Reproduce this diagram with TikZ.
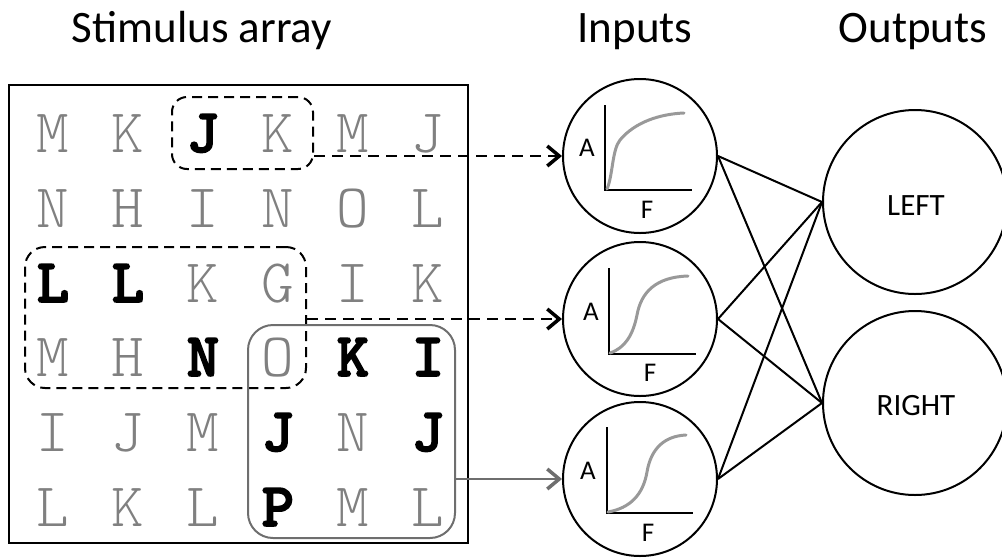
\documentclass[tikz,border=0pt]{standalone}
\usepackage{fontspec}
\setmainfont{Carlito}
\newfontfamily\gridfont{Latin Modern Mono Light}
\newfontfamily\heavygrid{Latin Modern Mono Light}[FakeBold=2.5]
\usetikzlibrary{arrows.meta}
\definecolor{lettergray}{gray}{0.5}
\definecolor{boxgray}{gray}{0.43}
\definecolor{curvegray}{gray}{0.6}

\begin{document}
\begin{tikzpicture}[x=1pt,y=-1pt,
  title/.style={anchor=base, inner sep=0pt, font=\fontsize{45}{50}\selectfont},
  glyph/.style={anchor=base, inner sep=0pt, text=lettergray, font=\gridfont\fontsize{62}{62}\selectfont},
  target/.style={anchor=base, inner sep=0pt, text=black, font=\heavygrid\bfseries\fontsize{62}{62}\selectfont},
  frame/.style={draw=black, line width=2pt, inner sep=0pt},
  dashbox/.style={draw=black, line width=2pt, dash pattern=on 10pt off 6pt, inner sep=0pt},
  graybox/.style={draw=boxgray, line width=2pt, inner sep=0pt, rounded corners=25pt},
  unit/.style={circle, draw=black, line width=2pt, inner sep=0pt},
  axislabel/.style={inner sep=0pt, font=\fontsize{27}{30}\selectfont},
  outlabel/.style={inner sep=0pt, font=\fontsize{31}{34}\selectfont},
  axis/.style={line width=2pt, black},
  response/.style={line width=3pt, curvegray, line cap=round},
  feed/.style={line width=2.5pt, -{Straight Barb[length=12pt,width=20pt,line width=3.5pt]}},
  link/.style={line width=2pt, black},
]
\clip (0,0) rectangle (1002,558);

% column titles
\node[title] (tstim) at (202,42) {Stimulus array};
\node[title] (tin)   at (635,42) {Inputs};
\node[title] (tout)  at (913,42) {Outputs};

% stimulus frame
\node[frame, minimum width=459pt, minimum height=458pt] (frm) at (238.5,314) {};

% letter grid
\foreach \l/\s [count=\c] in {M/glyph,K/glyph,J/target,K/glyph,M/glyph,J/glyph}
  \node[\s] (g1-\c) at ({53+75*(\c-1)},152) {\l};
\foreach \l/\s [count=\c] in {N/glyph,H/glyph,I/glyph,N/glyph,O/glyph,L/glyph}
  \node[\s] (g2-\c) at ({53+75*(\c-1)},227) {\l};
\foreach \l/\s [count=\c] in {L/target,L/target,K/glyph,G/glyph,I/glyph,K/glyph}
  \node[\s] (g3-\c) at ({53+75*(\c-1)},302) {\l};
\foreach \l/\s [count=\c] in {M/glyph,H/glyph,N/target,O/glyph,K/target,I/target}
  \node[\s] (g4-\c) at ({53+75*(\c-1)},376) {\l};
\foreach \l/\s [count=\c] in {I/glyph,J/glyph,M/glyph,J/target,N/glyph,J/target}
  \node[\s] (g5-\c) at ({53+75*(\c-1)},451) {\l};
\foreach \l/\s [count=\c] in {L/glyph,K/glyph,L/glyph,P/target,M/glyph,L/glyph}
  \node[\s] (g6-\c) at ({53+75*(\c-1)},526) {\l};

% receptive-field windows
\node[dashbox, rounded corners=15pt, minimum width=141pt, minimum height=72pt] (win1) at (242.5,133) {};
\node[dashbox, rounded corners=20pt, minimum width=281pt, minimum height=141pt] (win2) at (165.5,317.5) {};
\node[graybox, minimum width=207pt, minimum height=213pt] (win3) at (351.5,431.5) {};

% input units
\node[unit, minimum size=154pt] (c1) at (640,156) {};
\node[unit, minimum size=154pt] (c2) at (640,319) {};
\node[unit, minimum size=154pt] (c3) at (640,479) {};

% output units
\node[unit, minimum size=184pt] (left)  at (915,202) {};
\node[unit, minimum size=184pt] (right) at (915,403) {};
\node[outlabel, anchor=base] (lleft)  at (916,215) {LEFT};
\node[outlabel, anchor=base] (lright) at (916,415) {RIGHT};

% response curves inside the input units
\draw[axis] (605,105) -- (605,190) -- (692,190);
\draw[response] (607,189) .. controls (613,175) and (612,150) .. (620,140)
  .. controls (635,122) and (660,114) .. (684,113);
\node[axislabel] (a1) at (587,148) {A};
\node[axislabel] (f1) at (647,210) {F};

\draw[axis] (609,268) -- (609,354) -- (696,354);
\draw[response] (610,353) .. controls (625,348) and (633,335) .. (637,315)
  .. controls (641,293) and (655,277) .. (688,276);
\node[axislabel] (a2) at (591,312) {A};
\node[axislabel] (f2) at (650,373) {F};

\draw[axis] (607,427) -- (607,513) -- (693,513);
\draw[response] (608,512) .. controls (630,508) and (643,495) .. (647,472)
  .. controls (651,448) and (665,436) .. (686,435);
\node[axislabel] (a3) at (588,471) {A};
\node[axislabel] (f3) at (648,533) {F};

% feed-forward arrows from windows to input units
\draw[feed, dash pattern=on 11pt off 7pt] (win1.east |- c1.west) -- (c1.west);
\draw[feed, dash pattern=on 11pt off 7pt] (win2.east |- c2.west) -- (c2.west);
\draw[feed, boxgray] (win3.east |- c3.west) -- (c3.west);

% connections from inputs to outputs
\foreach \i in {c1,c2,c3} {
  \draw[link] (\i.east) -- (left.west);
  \draw[link] (\i.east) -- (right.west);
}
\end{tikzpicture}
\end{document}
